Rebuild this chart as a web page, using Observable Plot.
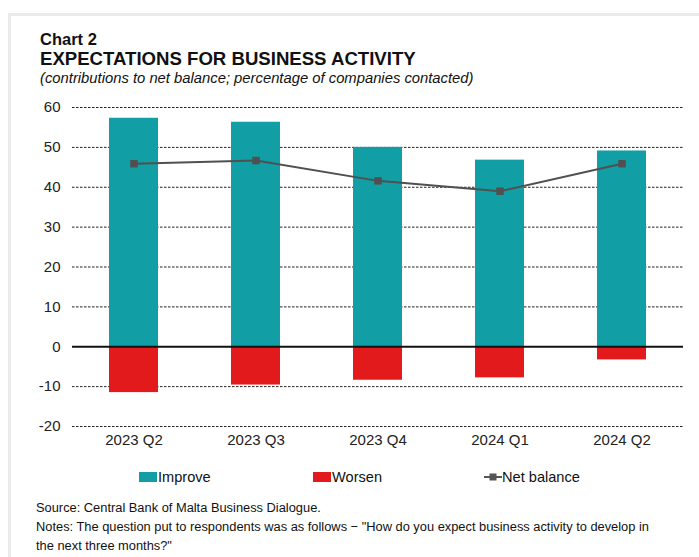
<!DOCTYPE html>
<html><head><meta charset="utf-8">
<script src="https://cdn.jsdelivr.net/npm/d3@7"></script>
<script src="https://cdn.jsdelivr.net/npm/@observablehq/plot@0.6"></script>
<style>
body{margin:0;background:#fff;font-family:"Liberation Sans",Arial,sans-serif;color:#111;}
#wrap{position:relative;width:699px;height:557px;overflow:hidden;}
.frameTop{position:absolute;left:8px;top:13px;width:691px;height:3px;background:#ebebeb;}
.frameLeft{position:absolute;left:8px;top:13px;width:3px;height:544px;background:#ebebeb;}
.t{position:absolute;left:40px;white-space:nowrap;}
#chart{position:absolute;left:0;top:95px;}
.leg{position:absolute;top:469px;font-size:14.6px;display:flex;align-items:center;white-space:nowrap;color:#111;}
.sw{display:inline-block;width:18px;height:10px;margin-right:1px;}
.note{position:absolute;left:36px;font-size:12.85px;white-space:nowrap;color:#111;}
</style></head>
<body>
<div id="wrap">
<div class="frameTop"></div><div class="frameLeft"></div>
<div class="t" style="top:30px;font-size:16.5px;font-weight:bold;">Chart 2</div>
<div class="t" style="top:48px;font-size:18.6px;font-weight:bold;">EXPECTATIONS FOR BUSINESS ACTIVITY</div>
<div class="t" style="top:70px;font-size:14.8px;font-style:italic;">(contributions to net balance; percentage of companies contacted)</div>
<div id="chart"></div>
<div class="leg" style="left:139px;"><span class="sw" style="background:#119EA4"></span>Improve</div>
<div class="leg" style="left:313px;"><span class="sw" style="background:#E31A1C"></span>Worsen</div>
<div class="leg" style="left:484px;"><svg width="18" height="10" style="margin-right:0px"><line x1="0" y1="5" x2="18" y2="5" stroke="#555" stroke-width="2"/><rect x="5.5" y="1.5" width="7" height="7" fill="#555"/></svg>Net balance</div>
<div class="note" style="top:500px;">Source: Central Bank of Malta Business Dialogue.</div>
<div class="note" style="top:519px;">Notes: The question put to respondents was as follows − "How do you expect business activity to develop in</div>
<div class="note" style="top:538px;">the next three months?"</div>
</div>
<script>
const quarters = ["2023 Q2","2023 Q3","2023 Q4","2024 Q1","2024 Q2"];
const improve = [57.3, 56.3, 50.0, 46.8, 49.1];
const worsen = [-11.5, -9.6, -8.4, -7.8, -3.3];
const netBalance = [45.9, 46.7, 41.6, 39.0, 45.9];
const yTicks = [-20,-10,0,10,20,30,40,50,60];

const imp = quarters.map((q,i)=>({q, v: improve[i]}));
const wor = quarters.map((q,i)=>({q, v: worsen[i]}));
const net = quarters.map((q,i)=>({q, v: netBalance[i]}));

const chart = Plot.plot({
  width: 699,
  height: 360,
  marginLeft: 72,
  marginRight: 16,
  marginTop: 12,
  marginBottom: 29,
  style: {fontFamily: '"Liberation Sans", Arial, sans-serif', fontSize: "15px", color: "#222", background: "transparent"},
  x: {domain: quarters, paddingInner: 0.6, paddingOuter: 0.3, label: null, tickSize: 0, tickPadding: 8},
  y: {domain: [-20, 60], ticks: yTicks, tickFormat: d => String(d), label: null, tickSize: 0, tickPadding: 12},
  marks: [
    Plot.ruleY(yTicks.filter(d=>d!==0), {stroke: "#222", strokeDasharray: "2.5,1.5", strokeWidth: 1}),
    Plot.barY(imp, {x: "q", y: "v", fill: "#119EA4"}),
    Plot.barY(wor, {x: "q", y: "v", fill: "#E31A1C"}),
    Plot.ruleY([0], {stroke: "#111", strokeWidth: 2}),
    Plot.line(net, {x: "q", y: "v", stroke: "#505050", strokeWidth: 2}),
    Plot.dot(net, {x: "q", y: "v", symbol: "square", r: 4.2, fill: "#505050", stroke: "none"})
  ]
});
document.getElementById("chart").appendChild(chart);
</script>
</body></html>
